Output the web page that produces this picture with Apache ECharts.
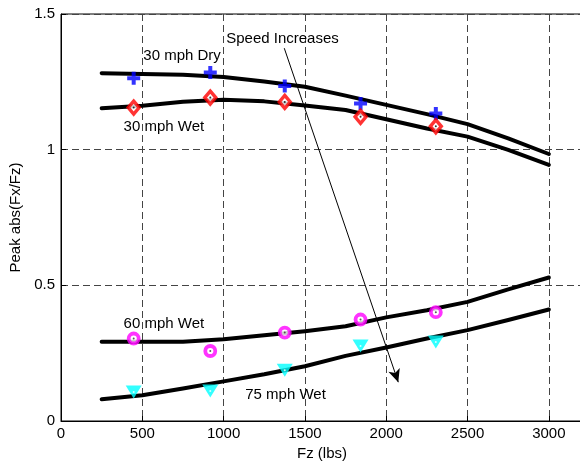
<!DOCTYPE html>
<html>
<head>
<meta charset="utf-8">
<script src="https://cdn.jsdelivr.net/npm/echarts@6/dist/echarts.min.js"></script>
<style>
  html, body { margin: 0; padding: 0; background: #fff; }
  #chart { width: 580px; height: 466px; }
</style>
</head>
<body>
<div id="chart"></div>
<script>
// Fitted friction curves, sampled along the vertical load axis
const curveFz   = [250, 500, 750, 1000, 1250, 1500, 1750, 2000, 2250, 2500, 2750, 3000];
const dry30Fit  = [1.282, 1.279, 1.276, 1.268, 1.251, 1.232, 1.199, 1.165, 1.131, 1.094, 1.042, 0.984];
const wet30Fit  = [1.153, 1.162, 1.177, 1.184, 1.178, 1.163, 1.146, 1.112, 1.078, 1.048, 0.999, 0.944];
const wet60Fit  = [0.292, 0.292, 0.292, 0.301, 0.316, 0.331, 0.349, 0.382, 0.408, 0.439, 0.485, 0.529];
const wet75Fit  = [0.080, 0.095, 0.120, 0.146, 0.172, 0.202, 0.240, 0.271, 0.304, 0.335, 0.372, 0.411];

// Measured peaks at the tested loads
const testFz    = [447, 918, 1376, 1842, 2305];
const dry30Pts  = [1.263, 1.284, 1.235, 1.170, 1.133];
const wet30Pts  = [1.155, 1.192, 1.176, 1.121, 1.086];
const wet60Pts  = [0.304, 0.258, 0.326, 0.374, 0.401];
const wet75Pts  = [0.107, 0.111, 0.187, 0.276, 0.291];

// Axis ticks
const xTicks = { min: 0, max: 3210, step: 500 };
const yTicks = { min: 0, max: 1.5, step: 0.5 };

// Text annotations [label, Fz, value] (left / middle anchored)
const notes = [
  ['30 mph Dry', 506, 1.345],
  ['30 mph Wet', 385, 1.084],
  ['Speed Increases', 1016, 1.408],
  ['60 mph Wet', 385, 0.357],
  ['75 mph Wet', 1133, 0.095]
];
// Arrow from the annotation toward higher speeds
const arrowFrom = [1373, 1.374];
const arrowTo   = [2074, 0.143];

const FONT = "'Liberation Sans', Arial, Helvetica, sans-serif";
const pairs = (xs, ys) => xs.map((x, i) => [x, ys[i]]);

const curveSeries = (data) => ({
  type: 'line',
  data: data,
  symbol: 'none',
  smooth: false,
  lineStyle: { color: '#000', width: 4, cap: 'round', join: 'round' },
  z: 3
});

const dotSeries = (data, color) => ({
  type: 'scatter',
  data: data,
  symbol: 'circle',
  symbolSize: 2,
  itemStyle: { color: color },
  z: 6
});

const plusPath = 'path://M4.5,0h4v4.5h4.5v4h-4.5v4.5h-4v-4.5h-4.5v-4h4.5z';

const chart = echarts.init(document.getElementById('chart'), null, { renderer: 'canvas' });

const option = {
  animation: false,
  backgroundColor: '#fff',
  grid: {
    left: 61, top: 14, width: 522, height: 407,
    outerBoundsMode: 'none', containLabel: false,
    show: true, borderColor: '#000', borderWidth: 1, backgroundColor: '#fff'
  },
  xAxis: {
    type: 'value',
    min: xTicks.min, max: xTicks.max, interval: xTicks.step,
    name: 'Fz (lbs)', nameLocation: 'middle', nameGap: 23,
    nameTextStyle: { fontFamily: FONT, fontSize: 15, color: '#000' },
    axisLine: { show: true, onZero: false, lineStyle: { color: '#000', width: 1 } },
    axisTick: { show: true, inside: true, length: 5, lineStyle: { color: '#000' } },
    axisLabel: {
      margin: 5, fontFamily: FONT, fontSize: 15, color: '#000', showMaxLabel: false,
      formatter: (v) => (v % xTicks.step === 0 ? String(v) : '')
    },
    splitLine: { show: true, lineStyle: { color: '#444', width: 1, type: [7, 4] } }
  },
  yAxis: {
    type: 'value',
    min: yTicks.min, max: yTicks.max, interval: yTicks.step,
    name: 'Peak abs(Fx/Fz)', nameLocation: 'middle', nameGap: 37, nameRotate: 90,
    nameTextStyle: { fontFamily: FONT, fontSize: 15, color: '#000' },
    axisLine: { show: true, onZero: false, lineStyle: { color: '#000', width: 1 } },
    axisTick: { show: true, inside: true, length: 5, lineStyle: { color: '#000' } },
    axisLabel: { margin: 6, fontFamily: FONT, fontSize: 15, color: '#000' },
    splitLine: { show: true, lineStyle: { color: '#444', width: 1, type: [7, 4] } }
  },
  series: [
    Object.assign(curveSeries(pairs(curveFz, dry30Fit)), {
      markLine: {
        silent: true,
        symbol: ['none', 'arrow'],
        symbolSize: [9, 13],
        label: { show: false },
        lineStyle: { color: '#000', width: 1, type: 'solid' },
        data: [[{ coord: arrowFrom }, { coord: arrowTo }]]
      }
    }),
    curveSeries(pairs(curveFz, wet30Fit)),
    curveSeries(pairs(curveFz, wet60Fit)),
    curveSeries(pairs(curveFz, wet75Fit)),
    {
      type: 'scatter', data: pairs(testFz, dry30Pts),
      symbol: plusPath, symbolSize: 13,
      itemStyle: { color: '#0000ff' }, z: 5
    },
    {
      type: 'scatter', data: pairs(testFz, wet30Pts),
      symbol: 'diamond', symbolSize: [11, 13],
      itemStyle: { color: '#fff', borderColor: '#ff0000', borderWidth: 3.4 }, z: 5
    },
    {
      type: 'scatter', data: pairs(testFz, wet60Pts),
      symbol: 'circle', symbolSize: 10,
      itemStyle: { color: '#fff', borderColor: '#ff00ff', borderWidth: 3.8 }, z: 5
    },
    {
      type: 'scatter', data: pairs(testFz, wet75Pts),
      symbol: 'triangle', symbolRotate: 180, symbolSize: [16, 13],
      itemStyle: { color: '#00ffff' }, z: 5
    },
    dotSeries(pairs(testFz, wet30Pts), '#000'),
    dotSeries(pairs(testFz, wet60Pts), '#333'),
    dotSeries(pairs(testFz, wet75Pts), '#fff')
  ]
};

chart.setOption(option);

// Place the annotation texts at their data positions
chart.setOption({
  graphic: notes.map(([text, fz, val]) => {
    const p = chart.convertToPixel({ gridIndex: 0 }, [fz, val]);
    return {
      type: 'text', x: p[0], y: p[1], z: 10,
      style: {
        text: text, fill: '#000',
        font: '15px ' + FONT,
        textAlign: 'left', textVerticalAlign: 'middle'
      }
    };
  })
});
</script>
</body>
</html>
